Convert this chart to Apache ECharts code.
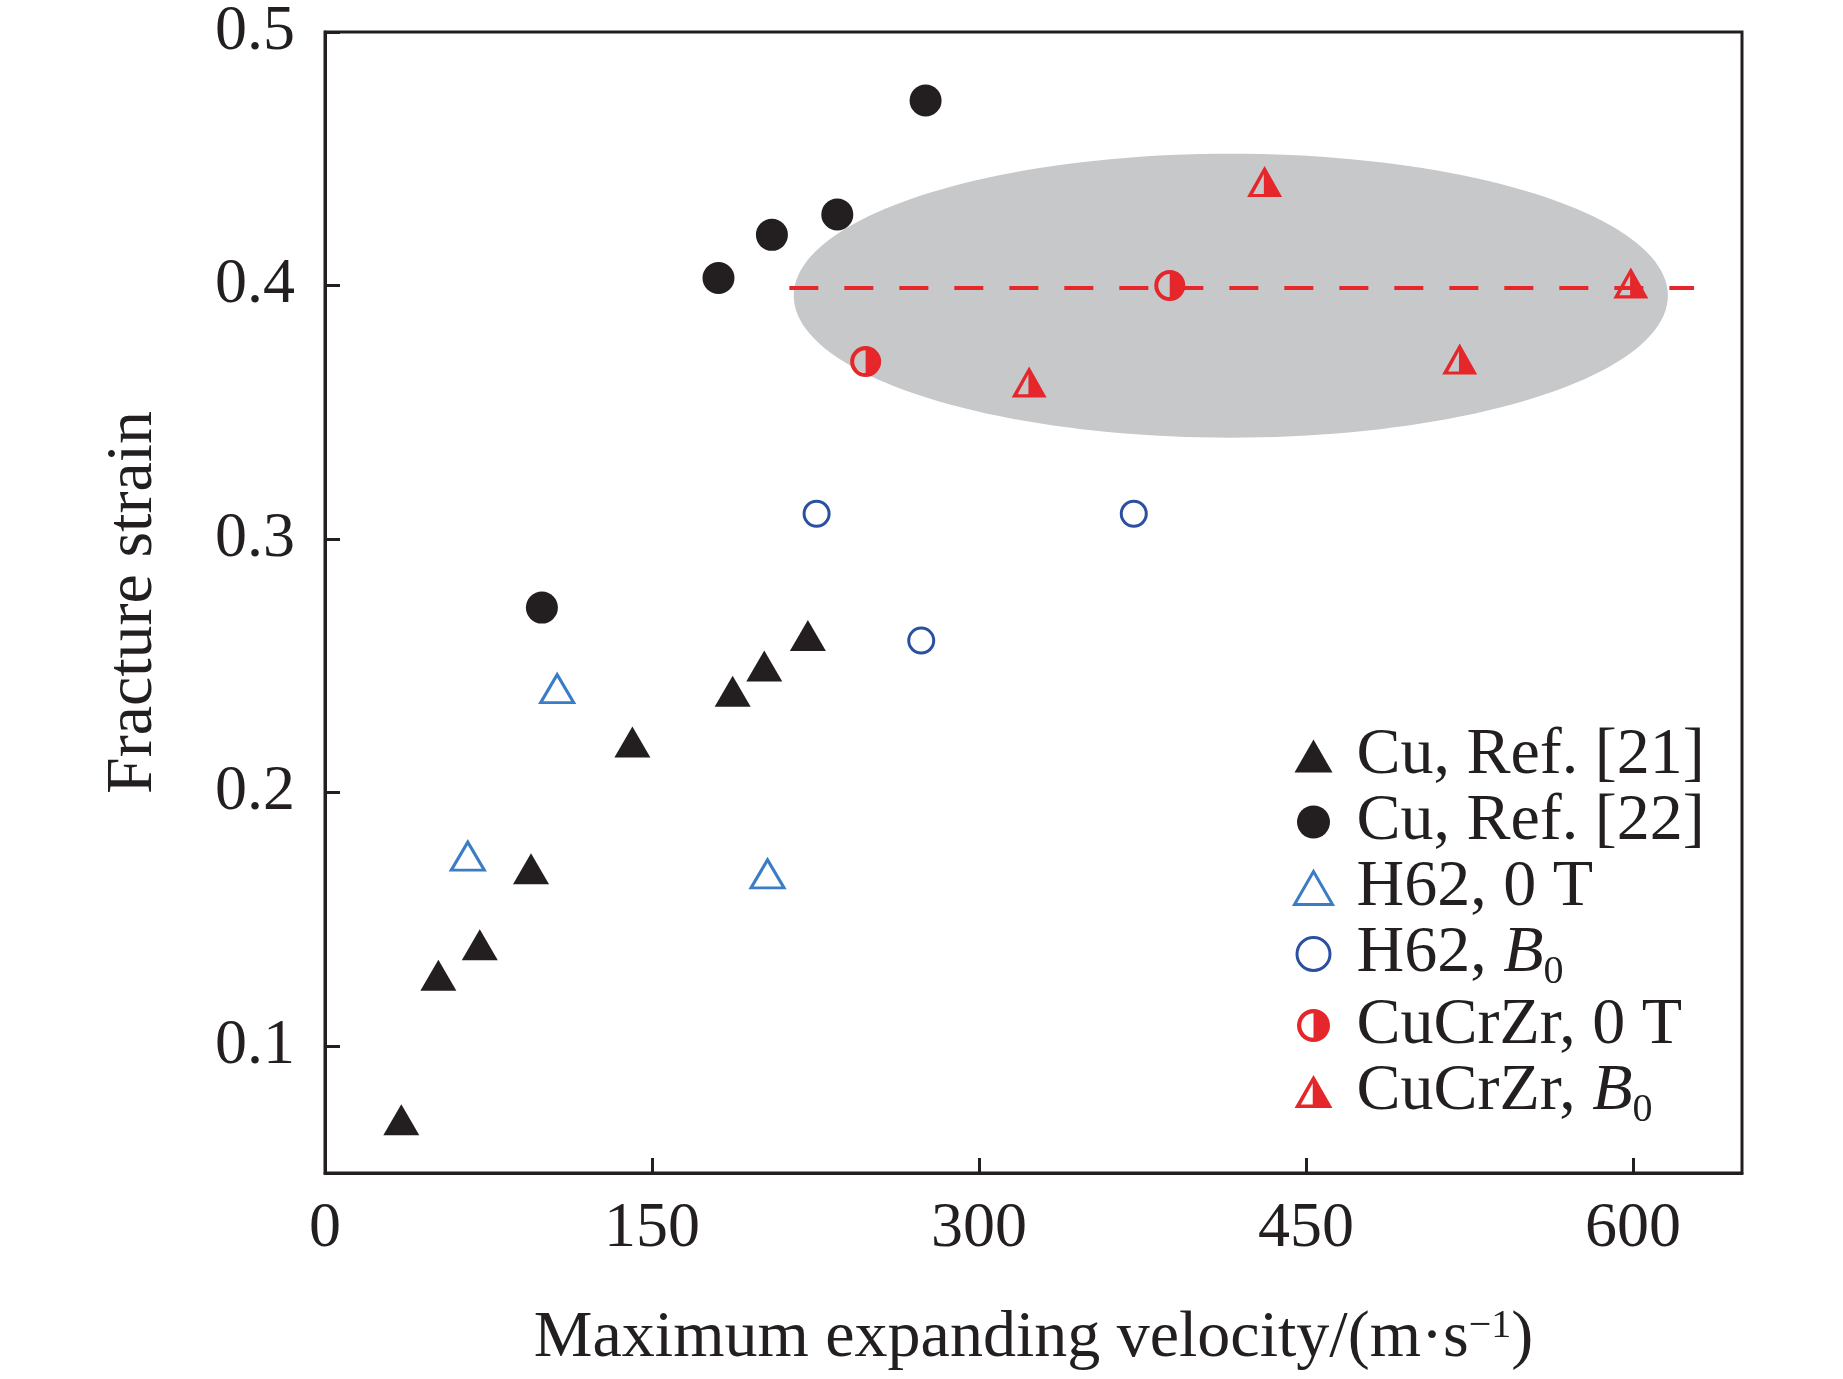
<!DOCTYPE html>
<html>
<head>
<meta charset="utf-8">
<script src="https://cdn.jsdelivr.net/npm/echarts@6/dist/echarts.min.js"></script>
<style>
  html, body { margin: 0; padding: 0; background: #fff; }
  #chart { width: 1843px; height: 1379px; }
</style>
</head>
<body>
<div id="chart"></div>
<script>
// values: [velocity m/s, fracture strain]
const cuRef21 = [[35, 0.071], [52, 0.128], [71, 0.14], [94.5, 0.17], [141, 0.22], [187, 0.24], [201.5, 0.25], [221.5, 0.262]];
const cuRef22 = [[99.5, 0.273], [180.5, 0.403], [205, 0.42], [235, 0.428], [275.5, 0.473]];
const h62Zero = [[65.5, 0.175], [106.5, 0.241], [203, 0.168]];
const h62B0 = [[225.5, 0.31], [273.5, 0.26], [371, 0.31]];
const cucrzrZero = [[248, 0.37], [387.5, 0.4]];
const cucrzrB0 = [[323, 0.362], [431, 0.441], [520.5, 0.371], [599, 0.401]];

// shaded region and reference line
const regionEllipse = [[415.5, 0.396, 200.5, 0.056]]; // cx, cy, rx, ry
const refLine = [[213, 0.399], [628, 0.399]];

const xTicks = [0, 150, 300, 450, 600];
const yTicks = [0.1, 0.2, 0.3, 0.4, 0.5];

const FONT = "'Liberation Serif', 'Times New Roman', serif";
const INK = '#231f20';
const RED = '#e5262b';
const BLUE_TRI = '#3a7cc5';
const BLUE_CIR = '#2b50a2';
const GREY = '#c7c8ca';

// half-filled markers (left half hollow)
const halfCircle = 'path://M50 0 A50 50 0 1 1 50 100 A50 50 0 1 1 50 0 Z M50 13 A37 37 0 0 0 50 87 L50 13 Z';
const halfTriangle = 'path://M50 0 L100 87 L0 87 Z M48 22 L17 78 L48 78 Z';

const chart = echarts.init(document.getElementById('chart'));

const legendRich = {
  i: { fontFamily: FONT, fontSize: 66, fontStyle: 'italic', color: INK, lineHeight: 65 },
  s: { fontFamily: FONT, fontSize: 40, color: INK, lineHeight: 65, verticalAlign: 'bottom', padding: [0, 0, -6, 0] }
};

chart.setOption({
  animation: false,
  backgroundColor: '#fff',
  grid: {
    left: 325, right: 101, top: 31, bottom: 206,
    show: true, borderColor: INK, borderWidth: 3
  },
  legend: {
    orient: 'vertical',
    left: 1288, top: 718,
    itemWidth: 38, itemHeight: 33, itemGap: 0,
    selectedMode: false,
    textStyle: { fontFamily: FONT, fontSize: 66, color: INK, lineHeight: 65, padding: [0, 0, 0, 19], rich: legendRich },
    formatter: name => name.replace('B0', '{i|B}{s|0}'),
    data: [
      { name: 'Cu, Ref. [21]' },
      { name: 'Cu, Ref. [22]' },
      { name: 'H62, 0 T', itemStyle: { borderWidth: 3, borderColor: BLUE_TRI, color: '#fff' } },
      { name: 'H62, B0', itemStyle: { borderWidth: 3, borderColor: BLUE_CIR, color: '#fff' } },
      { name: 'CuCrZr, 0 T' },
      { name: 'CuCrZr, B0' }
    ]
  },
  xAxis: {
    type: 'value', min: 0, max: 650,
    name: 'Maximum expanding velocity/(m·s{sup|−1})',
    nameLocation: 'middle', nameGap: 133,
    nameTextStyle: {
      fontFamily: FONT, fontSize: 66, color: INK,
      rich: { sup: { fontFamily: FONT, fontSize: 40, color: INK, verticalAlign: 'top', padding: [0, 0, 22, 0] } }
    },
    axisLine: { lineStyle: { color: INK, width: 3 } },
    axisTick: { inside: true, length: 15, customValues: xTicks, lineStyle: { color: INK, width: 3 } },
    axisLabel: { customValues: xTicks, margin: 24, fontFamily: FONT, fontSize: 64, color: INK },
    splitLine: { show: false }
  },
  yAxis: {
    type: 'value', min: 0.05, max: 0.5,
    name: 'Fracture strain',
    nameLocation: 'middle', nameGap: 158,
    nameTextStyle: { fontFamily: FONT, fontSize: 66, color: INK },
    axisLine: { lineStyle: { color: INK, width: 3 } },
    axisTick: { inside: true, length: 15, customValues: yTicks, lineStyle: { color: INK, width: 3 } },
    axisLabel: { customValues: yTicks, margin: 30, fontFamily: FONT, fontSize: 64, color: INK,
      formatter: v => v.toFixed(1) },
    splitLine: { show: false }
  },
  series: [
    {
      type: 'custom', silent: true, z: 1,
      data: regionEllipse,
      renderItem: function (params, api) {
        const cx = api.value(0), cy = api.value(1), rx = api.value(2), ry = api.value(3);
        const pts = [];
        for (let k = 0; k < 180; k++) {
          const a = k / 180 * Math.PI * 2;
          pts.push(api.coord([cx + rx * Math.cos(a), cy + ry * Math.sin(a)]));
        }
        return { type: 'polygon', shape: { points: pts }, style: { fill: GREY } };
      }
    },
    {
      type: 'line', silent: true, z: 2,
      data: refLine, symbol: 'none',
      lineStyle: { color: RED, width: 4, type: [29, 26] }
    },
    {
      name: 'Cu, Ref. [21]', type: 'scatter', z: 3,
      data: cuRef21, symbol: 'triangle', symbolSize: [36, 31],
      itemStyle: { color: INK, opacity: 1 }
    },
    {
      name: 'Cu, Ref. [22]', type: 'scatter', z: 3,
      data: cuRef22, symbol: 'circle', symbolSize: 32,
      itemStyle: { color: INK, opacity: 1 }
    },
    {
      name: 'H62, 0 T', type: 'scatter', z: 3,
      data: h62Zero, symbol: 'triangle', symbolSize: [33, 28],
      itemStyle: { color: '#fff', borderColor: BLUE_TRI, borderWidth: 3, opacity: 1 }
    },
    {
      name: 'H62, B0', type: 'scatter', z: 3,
      data: h62B0, symbol: 'circle', symbolSize: 25,
      itemStyle: { color: '#fff', borderColor: BLUE_CIR, borderWidth: 3, opacity: 1 }
    },
    {
      name: 'CuCrZr, 0 T', type: 'scatter', z: 3,
      data: cucrzrZero, symbol: halfCircle, symbolSize: 31, symbolKeepAspect: true,
      itemStyle: { color: RED, opacity: 1 }
    },
    {
      name: 'CuCrZr, B0', type: 'scatter', z: 3,
      data: cucrzrB0, symbol: halfTriangle, symbolSize: [35, 31],
      itemStyle: { color: RED, opacity: 1 }
    }
  ]
});
</script>
</body>
</html>
